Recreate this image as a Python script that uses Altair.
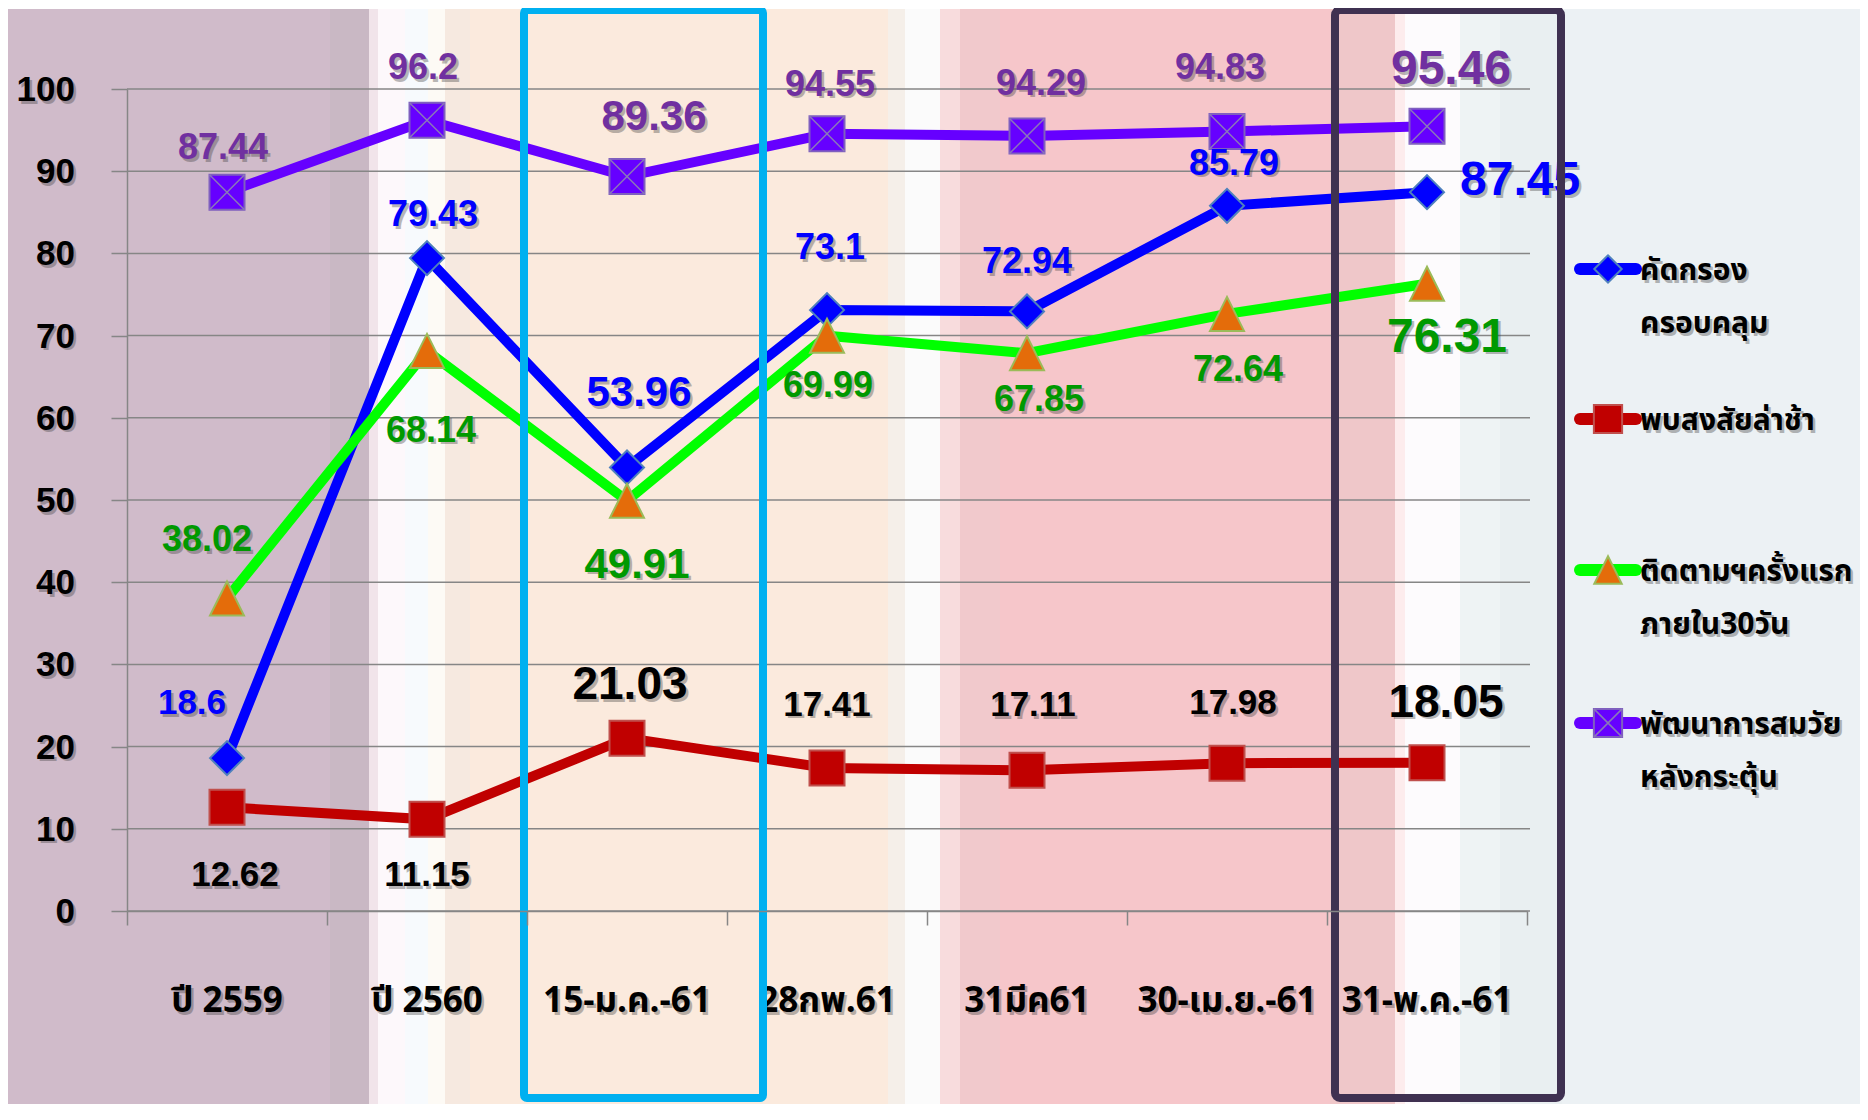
import altair as alt
import pandas as pd

# ---------------- data ----------------
categories = ["ปี 2559", "ปี 2560", "15-ม.ค.-61", "28กพ.61", "31มีค61", "30-เม.ย.-61", "31-พ.ค.-61"]
series_names = ["คัดกรองครอบคลุม", "พบสงสัยล่าช้า", "ติดตามฯครั้งแรกภายใน30วัน", "พัฒนาการสมวัยหลังกระตุ้น"]
legend_lines = [["คัดกรอง", "ครอบคลุม"], ["พบสงสัยล่าช้า"], ["ติดตามฯครั้งแรก", "ภายใน30วัน"], ["พัฒนาการสมวัย", "หลังกระตุ้น"]]
screening = [18.6, 79.43, 53.96, 73.1, 72.94, 85.79, 87.45]
delayed = [12.62, 11.15, 21.03, 17.41, 17.11, 17.98, 18.05]
followup = [38.02, 68.14, 49.91, 69.99, 67.85, 72.64, 76.31]
development = [87.44, 96.2, 89.36, 94.55, 94.29, 94.83, 95.46]
y_ticks = list(range(0, 101, 10))

# ---------------- styles ----------------
W, H = 1400, 822
OX, OY = 127, 89  # page position of plot origin
NUM_FONT = "Liberation Sans"
THAI_FONT = "Noto Sans Thai, Loma, Garuda, Tlwg Typo, Waree, Norasi, Liberation Sans, sans-serif"
GRID = "#868686"

line_colors = ["#0000ff", "#c00000", "#00ff00", "#6600ff"]
label_colors = ["#0000ff", "#000000", "#009900", "#7030a0"]
markers = [
    dict(shape="diamond", size=1156, fill="#0000ff", stroke="#4f81bd"),
    dict(shape="square", size=1225, fill="#c00000", stroke="#c0504d"),
    dict(shape="M0,-1L1,1L-1,1Z", size=1156, fill="#e46c0a", stroke="#9bbb59"),
    dict(shape="square", size=1225, fill="#6600ff", stroke="#7f5fbf"),
]
# (dx, dy, fontSize[, align]) per label
label_offsets = [
    [(-35, -55, 35), (6, -43, 36), (12, -74, 42), (3, -62, 36), (0, -49, 36), (7, -42, 36), (33, -11, 48, "left")],
    [(8, 68, 35), (0, 56, 35), (3, -53, 46), (0, -63, 35), (6, -65, 35), (6, -60, 35), (19, -60, 46)],
    [(-20, -58, 36), (4, 80, 36), (10, 64, 42), (1, 50, 36), (12, 47, 36), (11, 56, 36), (20, 54, 48)],
    [(-4, -44, 36), (-4, -52, 36), (27, -59, 42), (3, -49, 36), (14, -52, 36), (-7, -63, 36), (24, -56, 48)],
]
bands = [
    (0, 330, "#d0bbca"), (330, 369, "#c9b8c4"), (369, 378, "#f1e4ea"), (378, 405, "#fdf8fb"),
    (405, 428, "#f7fafd"), (428, 445, "#fdfaf5"), (445, 470, "#f6e9e0"), (470, 888, "#fbeadd"),
    (888, 905, "#f5efe9"), (905, 940, "#fbfbfb"), (940, 960, "#f8dcdd"), (960, 1000, "#f1c9cc"),
    (1000, 1330, "#f6c6ca"), (1330, 1395, "#efc7c9"), (1395, 1405, "#fdeced"), (1405, 1460, "#fdfbfd"),
    (1460, 1500, "#eef3f4"), (1500, 1562, "#e9eff1"), (1562, 1868, "#ecf1f4"),
]
legend_y = [269, 419, 570, 723]
LEGEND_FONT = 30

# ---------------- table ----------------
rows = []
k = 0
for si, (s, vals) in enumerate(zip(series_names, [screening, delayed, followup, development])):
    for c, v in zip(categories, vals):
        rows.append({"idx": k, "si": si, "series": s, "cat": c, "value": v, "label": str(v)})
        k += 1
df = pd.DataFrame(rows)
cat_df = pd.DataFrame({"cat": categories})
tick_df = pd.DataFrame({"tick": y_ticks})

xscale = alt.Scale(type="band", domain=categories, paddingInner=0, paddingOuter=0)
yscale = alt.Scale(domain=[0, 100], nice=False, zero=True)
xaxis = alt.Axis(title=None, labels=False, grid=False, ticks=True, tickBand="extent", tickSize=14,
                 tickColor=GRID, tickWidth=1.5, domainColor=GRID, domainWidth=1.5, zindex=1)
yaxis = alt.Axis(title=None, labels=False, grid=False, ticks=True, tickSize=16, values=y_ticks,
                 tickColor=GRID, tickWidth=1.5, domainColor=GRID, domainWidth=1.5, zindex=1)
X = alt.X("cat:N", scale=xscale, axis=xaxis)
Y = alt.Y("value:Q", scale=yscale, axis=yaxis)

layers = []
# background bands
for x1, x2, col in bands:
    layers.append(alt.Chart(cat_df).mark_rect(color=col).encode(
        x=alt.value(x1 - OX), x2=alt.value(x2 - OX), y=alt.value(9 - OY), y2=alt.value(1125 - OY)))

# gridlines
layers.append(alt.Chart(tick_df).mark_rule(color=GRID, strokeWidth=1.5).encode(
    y=alt.Y("tick:Q", scale=yscale, axis=yaxis), x=alt.value(0), x2=alt.value(W + 3)))

def shadowed_text(chart, enc, dx, dy, size, color, align="center", font=NUM_FONT):
    sh = chart.mark_text(dx=dx + 2.5, dy=dy + 2.5, fontSize=size, font=font, fontWeight="bold",
                         color="#3a3a3a", opacity=0.35, align=align, baseline="middle").encode(**enc)
    tx = chart.mark_text(dx=dx, dy=dy, fontSize=size, font=font, fontWeight="bold",
                         color=color, align=align, baseline="middle").encode(**enc)
    return [sh, tx]

# y labels
layers += shadowed_text(alt.Chart(tick_df), dict(y=alt.Y("tick:Q", scale=yscale, axis=yaxis),
                        x=alt.value(-52), text="tick:Q"), 0, 1, 35, "#000000", align="right")
# x labels
layers += shadowed_text(alt.Chart(cat_df), dict(x=alt.X("cat:N", scale=xscale, axis=xaxis),
                        y=alt.value(H + 90), text="cat:N"), 0, 0, 35, "#000000", font=THAI_FONT)

base = alt.Chart(df)
# lines
for si in range(4):
    layers.append(base.transform_filter(alt.datum.si == si).mark_line(
        color=line_colors[si], strokeWidth=10).encode(x=X, y=Y))
# markers
for si in range(4):
    m = markers[si]
    layers.append(base.transform_filter(alt.datum.si == si).mark_point(
        shape=m["shape"], size=m["size"], filled=True, fill=m["fill"], fillOpacity=1,
        stroke=m["stroke"], strokeWidth=2, opacity=1).encode(x=X, y=Y))
layers.append(base.transform_filter(alt.datum.si == 3).mark_point(
    shape="M-1,-1L1,1M1,-1L-1,1", size=1225, filled=False, stroke="#8a78b8",
    strokeWidth=1.5, opacity=1).encode(x=X, y=Y))

# data labels
for si in range(4):
    for pi in range(len(categories)):
        o = label_offsets[si][pi]
        align = o[3] if len(o) > 3 else "center"
        kk = si * len(categories) + pi
        layers += shadowed_text(base.transform_filter(alt.datum.idx == kk),
                                dict(x=X, y=Y, text="label:N"), o[0], o[1], o[2], label_colors[si], align=align)

# legend
for si in range(4):
    ly = legend_y[si] - OY
    one = alt.Chart(cat_df.head(1))
    layers.append(one.mark_rule(color=line_colors[si], strokeWidth=12, strokeCap="round").encode(
        x=alt.value(1580 - OX), x2=alt.value(1636 - OX), y=alt.value(ly)))
    m = markers[si]
    layers.append(one.mark_point(shape=m["shape"], size=int(m["size"] * 0.65), filled=True, fill=m["fill"],
                                 fillOpacity=1, stroke=m["stroke"], strokeWidth=2, opacity=1).encode(
        x=alt.value(1608 - OX), y=alt.value(ly)))
    if si == 3:
        layers.append(one.mark_point(shape="M-1,-1L1,1M1,-1L-1,1", size=int(m["size"] * 0.65), filled=False,
                                     stroke="#8a78b8", strokeWidth=1.5, opacity=1).encode(
            x=alt.value(1608 - OX), y=alt.value(ly)))
    for li, line in enumerate(legend_lines[si]):
        layers.append(one.mark_text(text=line, dx=2.5, dy=2.5, fontSize=LEGEND_FONT, font=THAI_FONT,
                                    fontWeight="bold", color="#3a3a3a", opacity=0.35, align="left",
                                    baseline="middle").encode(
            x=alt.value(1640 - OX), y=alt.value(ly + 2 + li * 53)))
        layers.append(one.mark_text(text=line, fontSize=LEGEND_FONT, font=THAI_FONT, fontWeight="bold",
                                    color="#000000", align="left", baseline="middle").encode(
            x=alt.value(1640 - OX), y=alt.value(ly + 2 + li * 53)))

# highlight boxes
one = alt.Chart(cat_df.head(1))
layers.append(one.mark_rect(fillOpacity=0, stroke="#00b0f0", strokeWidth=8, cornerRadius=3).encode(
    x=alt.value(524 - OX), x2=alt.value(763 - OX), y=alt.value(10 - OY), y2=alt.value(1098 - OY)))
layers.append(one.mark_rect(fillOpacity=0, stroke="#3f3151", strokeWidth=8, cornerRadius=5).encode(
    x=alt.value(1335 - OX), x2=alt.value(1561 - OX), y=alt.value(10 - OY), y2=alt.value(1098 - OY)))

chart = alt.layer(*layers).properties(
    width=W, height=H,
    autosize=alt.AutoSizeParams(type="none"),
    padding={"left": 119, "top": 81, "right": 333, "bottom": 193},
).configure_view(strokeWidth=0).configure(background="#ffffff")

chart.save("out.html", embed_options={"renderer": "svg", "actions": False})
